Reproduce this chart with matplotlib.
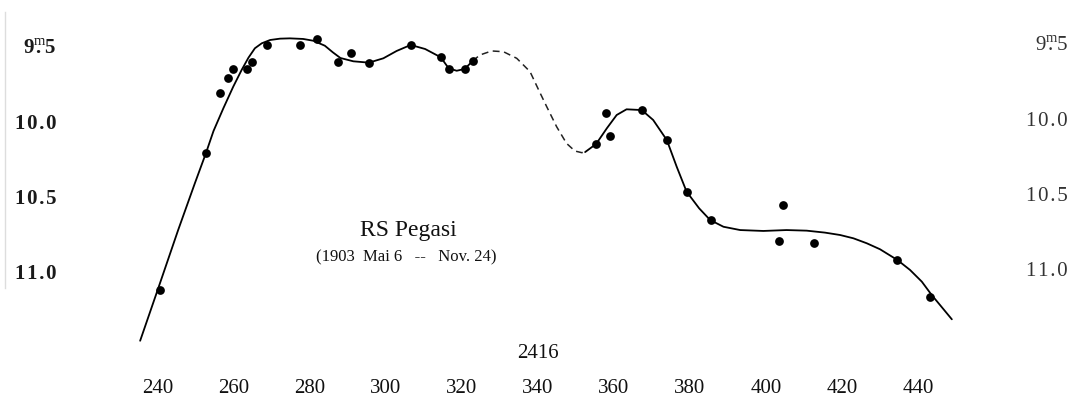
import numpy as np
import matplotlib
matplotlib.use("Agg")
import matplotlib.pyplot as plt

plt.rcParams['font.family'] = ['Liberation Serif', 'DejaVu Serif']
plt.rcParams['mathtext.fontset'] = 'custom'
plt.rcParams['mathtext.rm'] = 'Liberation Serif'

######## observed magnitudes (J.D. 2416xxx) ########
obs_day = [240.5, 252.6, 256.3, 258.3, 259.8, 263.5, 264.7, 268.8, 277.4, 281.8,
           287.4, 290.8, 295.5, 306.5, 314.4, 316.5, 320.7, 322.8, 355.3, 357.9,
           359.0, 367.3, 373.9, 379.1, 385.4, 403.4, 404.6, 412.6, 434.6, 443.2]
obs_mag = [11.107, 10.193, 9.79, 9.69, 9.633, 9.635, 9.587, 9.475, 9.47, 9.435,
           9.585, 9.529, 9.591, 9.470, 9.555, 9.630, 9.633, 9.580, 10.133, 9.927,
           10.08, 9.908, 10.107, 10.451, 10.64, 10.778, 10.54, 10.791, 10.907, 11.155]

# drawn light curve
curve1_day = [235.3, 239.9, 245.3, 249.7, 252.6, 254.6, 257.2, 259.8, 262.0, 263.8,
              265.5, 267.3, 269.5, 272.1, 274.7, 278.2, 280.9, 283.9, 286.0, 288.0,
              291.4, 295.5, 299.3, 302.8, 306.5, 310.3, 314.4, 316.5, 318.6, 320.7,
              322.8]
curve1_mag = [11.445, 11.107, 10.707, 10.395, 10.195, 10.047, 9.895, 9.751, 9.64, 9.558,
              9.495, 9.462, 9.44, 9.431, 9.429, 9.433, 9.445, 9.478, 9.522, 9.56,
              9.582, 9.591, 9.562, 9.513, 9.473, 9.5, 9.555, 9.629, 9.645, 9.633,
              9.58]

gap_day = [322.8, 324.7, 327.8, 330.9, 334.4, 337.9, 340.3, 342.3, 344.9, 347.5,
           349.7, 351.5, 352.4]
gap_mag = [9.58, 9.54, 9.513, 9.518, 9.562, 9.651, 9.78, 9.885, 10.018, 10.129,
           10.18, 10.191, 10.187]

curve2_day = [352.4, 355.3, 358.1, 360.7, 363.3, 367.3, 370.3, 373.9, 376.5, 379.1,
              382.4, 385.3, 388.8, 393.2, 399.3, 405.4, 410.7, 415.5, 419.5, 423.0,
              426.5, 430.0, 434.6, 437.9, 441.0, 443.6, 445.8, 448.9]
curve2_mag = [10.187, 10.133, 10.029, 9.94, 9.902, 9.907, 9.973, 10.107, 10.285, 10.451,
              10.562, 10.64, 10.685, 10.707, 10.713, 10.707, 10.711, 10.724, 10.74, 10.762,
              10.795, 10.835, 10.907, 10.973, 11.051, 11.14, 11.207, 11.302]

x_ticks = [240, 260, 280, 300, 320, 340, 360, 380, 400, 420, 440]
y_ticks = [9.5, 10.0, 10.5, 11.0]
y_labels = [r"9$^{\mathrm{m}}\!\!\!$.$\,$5", "1 0 . 0", "1 0 . 5", "1 1 . 0"]

fig = plt.figure(figsize=(10.84, 4.11), dpi=100)
ax = fig.add_axes([0, 0, 1, 1])
ax.set_xlim(198.42, 483.68)
ax.set_ylim(11.9133, 9.1733)
ax.axis('off')

ax.plot(curve1_day, curve1_mag, color='black', lw=1.3, solid_capstyle='round',
        solid_joinstyle='round')
ax.plot(gap_day, gap_mag, color='#222222', lw=1.1, linestyle=(0, (4.5, 3)))
ax.plot(curve2_day, curve2_mag, color='black', lw=1.3, solid_capstyle='round',
        solid_joinstyle='round')
ax.plot(obs_day, obs_mag, 'o', color='black', markersize=6.3, markeredgewidth=0)

# tick labels as plain text (no axes drawn in the original)
for d in x_ticks:
    ax.text(d, 11.76, str(d), ha='center', va='center', fontsize=15, color='#111111')
for m, lab in zip(y_ticks, y_labels):
    ax.text(213.2, m, lab.replace(" ", "\u200a"), ha='right', va='center', fontsize=15,
            fontweight='bold', color='#1a1a1a')
    ax.text(479.5, m - 0.015, lab.replace(" ", "\u200a"), ha='right', va='center',
            fontsize=15, color='#333333')

ax.text(340, 11.527, "2416", ha='center', va='center', fontsize=15, color='#111111')
ax.text(305.8, 10.707, "RS Pegasi", ha='center', va='center', fontsize=17, color='#111111')
ax.text(305.3, 10.887, "(1903  Mai 6   --   Nov. 24)", ha='center', va='center',
        fontsize=12, color='#111111')

# faint edge of the scanned page
ax.axvline(199.7, ymin=0.3, ymax=0.97, color='#dddddd', lw=1)

fig.savefig("out.png", dpi=100)
